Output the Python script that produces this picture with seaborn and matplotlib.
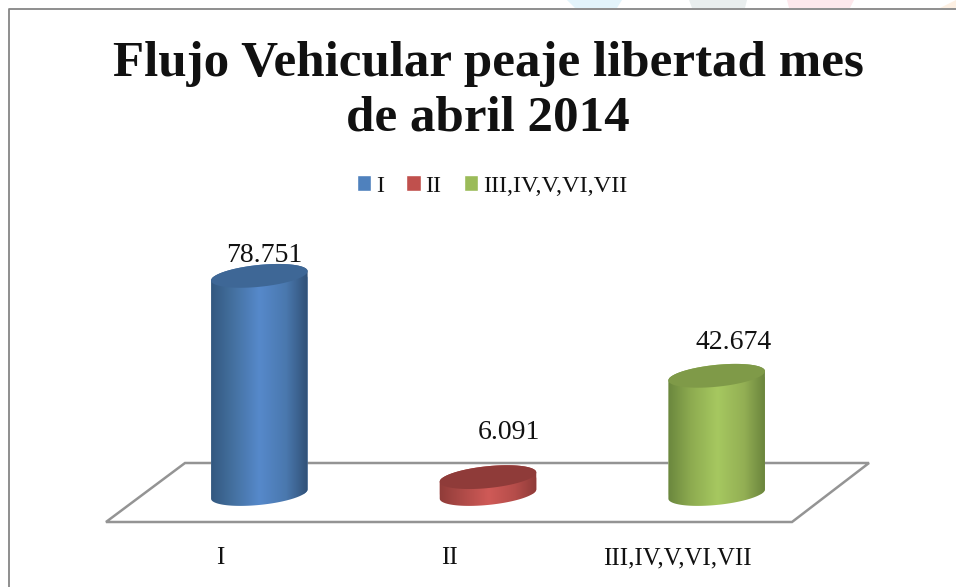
import numpy as np
import pandas as pd
import matplotlib
matplotlib.use("Agg")
import matplotlib.pyplot as plt
from matplotlib.colors import LinearSegmentedColormap
from matplotlib.patches import Polygon
from matplotlib.path import Path
import seaborn as sns

categories = ["I", "II", "III,IV,V,VI,VII"]
values = [78751, 6091, 42674]
title = "Flujo Vehicular peaje libertad mes\nde abril 2014"

base_colors = ["#4f81bd", "#c0504d", "#9bbb59"]
side_ramps = [["#2f5379", "#44709f", "#5689cb", "#4a78ae", "#2b486a"],
              ["#8a3936", "#ad4a47", "#cf5a57", "#b54d4a", "#853634"],
              ["#64803a", "#8dab50", "#a6c860", "#93af54", "#5f7836"]]
cap_colors = ["#3e6796", "#8f3b39", "#7f9a48"]
label_offsets_px = [(5, 20), (21, 45), (17, 33)]

W, H = 956, 587
sns.set_theme(style="white")
plt.rcParams["font.family"] = ["Liberation Serif", "DejaVu Serif"]

fig = plt.figure(figsize=(W / 100, H / 100), dpi=100)
L, R, B, T = 106, 792, 522, 200
ax = fig.add_axes([L / W, 1 - B / H, (R - L) / W, (B - T) / H])

px_per_val = 0.00277
base_px = 494
ax.set_ylim(-(B - base_px) / px_per_val, (base_px - T) / px_per_val)

df = pd.DataFrame({"cat": categories, "val": values})
sns.barplot(data=df, x="cat", y="val", hue="cat", palette=base_colors, dodge=False,
            width=97 / ((R - L) / 3), legend=True, ax=ax, saturation=1, zorder=2)
ax.set_xlim(-0.5, 2.5)
ax.set_ylim(-(B - base_px) / px_per_val, (base_px - T) / px_per_val)
ax.set_xlabel("")
ax.set_ylabel("")
ax.set_yticks([])
sns.despine(ax=ax, left=True, bottom=True)
ax.tick_params(axis="x", length=0, pad=18, labelsize=17.8, labelcolor="#111111")

# floor of the 3-D plot
floor_h = (B - 463) / (B - T)
ax.add_patch(Polygon([(0, 0), ((185 - L) / (R - L), floor_h), ((869 - L) / (R - L), floor_h),
                      (1, 0)], closed=True, transform=ax.transAxes, fill=False,
                     edgecolor="#949494", linewidth=1.8, clip_on=False, zorder=1))

# cylinders built on the bars
px_per_x = (R - L) / 3
depth = 39 / px_per_x
a, b, tilt = 48.5, 10.9, np.radians(5.8)


def ell(t):
    ex = a * np.cos(t) * np.cos(tilt) - b * np.sin(t) * np.sin(tilt)
    ey = a * np.cos(t) * np.sin(tilt) + b * np.sin(t) * np.cos(tilt)
    return ex / px_per_x, ey / px_per_val


t0 = np.arctan2(-b * np.sin(tilt), a * np.cos(tilt))
bars = [p for c in ax.containers for p in c]
for i, bar in enumerate(bars):
    bar.set_x(bar.get_x() + depth)
    cx = bar.get_x() + bar.get_width() / 2
    v = bar.get_height()
    ux, uy = ell(np.linspace(t0, t0 + np.pi, 80))
    lx, ly = ell(np.linspace(t0 + np.pi, t0 + 2 * np.pi, 80))
    sil = np.vstack([np.c_[cx + ux, v + uy], np.c_[cx + lx, ly]])
    path = Path(np.vstack([sil, sil[0]]), closed=True)
    bar.set_clip_path(path, transform=ax.transData)
    cmap = LinearSegmentedColormap.from_list(f"c{i}", side_ramps[i])
    im = ax.imshow(np.linspace(0, 1, 256)[None, :], cmap=cmap, aspect="auto",
                   extent=[cx - bar.get_width() / 2 - 0.02, cx + bar.get_width() / 2 + 0.02,
                           -14 / px_per_val, v + 14 / px_per_val], zorder=3)
    im.set_clip_path(path, transform=ax.transData)
    tx, ty = ell(np.linspace(0, 2 * np.pi, 160))
    ax.fill(cx + tx, v + ty, color=cap_colors[i], lw=0, zorder=4)
    ox, oy = label_offsets_px[i]
    ax.annotate(f"{values[i]:,}".replace(",", "."), (cx, v), xytext=(ox * 0.72, oy * 0.72),
                textcoords="offset points", ha="center", va="center",
                fontsize=20, color="#111111", zorder=5)
ax.set_xlim(-0.5, 2.5)
ax.set_ylim(-(B - base_px) / px_per_val, (base_px - T) / px_per_val)

leg = ax.legend(loc="center", bbox_to_anchor=(492 / W, 1 - 186 / H),
                bbox_transform=fig.transFigure, ncol=3, frameon=False, fontsize=17.6,
                handlelength=0.6, handleheight=0.6, handletextpad=0.2, columnspacing=0.9,
                title=None, labelcolor="#111111")

fig.suptitle(title, x=488 / W, y=1 - 91.5 / H, va="center", ha="center", fontsize=36.7,
             fontweight="bold", color="#111111", linespacing=1.24)

# page frame and faint page art from the source document
for pts, col in [([(567, 0), (622, 0), (617, 8), (575, 8)], "#e3f4fb"),
                 ([(689, 0), (747, 0), (745, 8), (692, 8)], "#e9eeee"),
                 ([(787, 0), (854, 0), (850, 8), (789, 8)], "#fde8ec"),
                 ([(956, 0), (956, 8), (940, 8)], "#fdf0e3")]:
    fig.add_artist(Polygon([(x / W, 1 - y / H) for x, y in pts], closed=True,
                           transform=fig.transFigure, color=col, lw=0))
fig.add_artist(plt.Line2D([1, 8.5 / W, 8.5 / W], [1 - 8.5 / H, 1 - 8.5 / H, 0],
                          transform=fig.transFigure, color="#868686", lw=1.3))

fig.savefig("out.png", dpi=100, facecolor="white")
